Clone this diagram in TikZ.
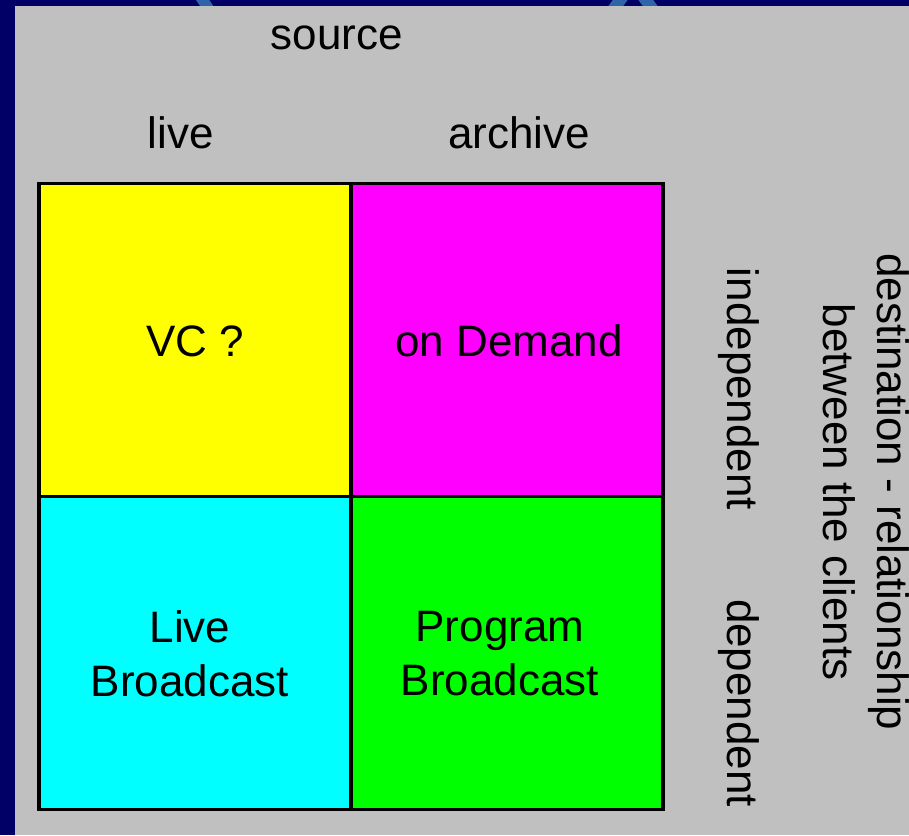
\documentclass[tikz,border=0pt]{standalone}
\usepackage{fontspec}
\setmainfont{Liberation Sans}
\definecolor{navy}{HTML}{000066}
\definecolor{panel}{HTML}{C0C0C0}
\definecolor{arcblue}{HTML}{2F64A8}
\definecolor{cyel}{HTML}{FFFF00}
\definecolor{cmag}{HTML}{FF00FF}
\definecolor{ccyan}{HTML}{00FFFF}
\definecolor{cgreen}{HTML}{00FF00}
\tikzset{
  cell/.style={draw=black, line width=3.5pt, minimum width=312pt, minimum height=313pt, inner sep=0pt},
  lbl/.style={font=\fontsize{44}{54}\selectfont, inner sep=0pt, align=center},
  stroke/.style={arcblue, line width=12pt},
}
\begin{document}
\begin{tikzpicture}[x=1pt,y=-1pt]
\useasboundingbox (0,0) rectangle (909,835);
\fill[navy] (0,0) rectangle (909,835);
\begin{scope}
\clip (0,0) rectangle (909,8);
\draw[stroke, line width=11pt] (200,-4) -- (212,14);
\draw[stroke] (610,14) -- (626,-8);
\draw[stroke] (640,-8) -- (656,14);
\end{scope}
\fill[panel] (15,6) rectangle (909,835);
\node[cell, fill=cyel] (vc) at (195,340) {};
\node[cell, fill=cmag] (od) at (507,340) {};
\node[cell, fill=ccyan] (lb) at (195,653) {};
\node[cell, fill=cgreen] (pb) at (507,653) {};
\node[lbl] (vct) at (195,341) {VC ?};
\node[lbl] (odt) at (509,341) {on Demand};
\node[lbl] (lbt) at (190,654) {Live\\Broadcast};
\node[lbl] (pbt) at (500,654) {Program\\Broadcast};
\node[lbl] (src) at (337,38) {source};
\node[lbl] (live) at (181,133) {live};
\node[lbl] (arch) at (519,133) {archive};
\node[lbl, rotate=-90] (indep) at (739,389) {independent};
\node[lbl, rotate=-90] (dep) at (739,703) {dependent};
\node[lbl, rotate=-90] (dest) at (866,492) {destination - relationship\\between the clients};
\end{tikzpicture}
\end{document}
